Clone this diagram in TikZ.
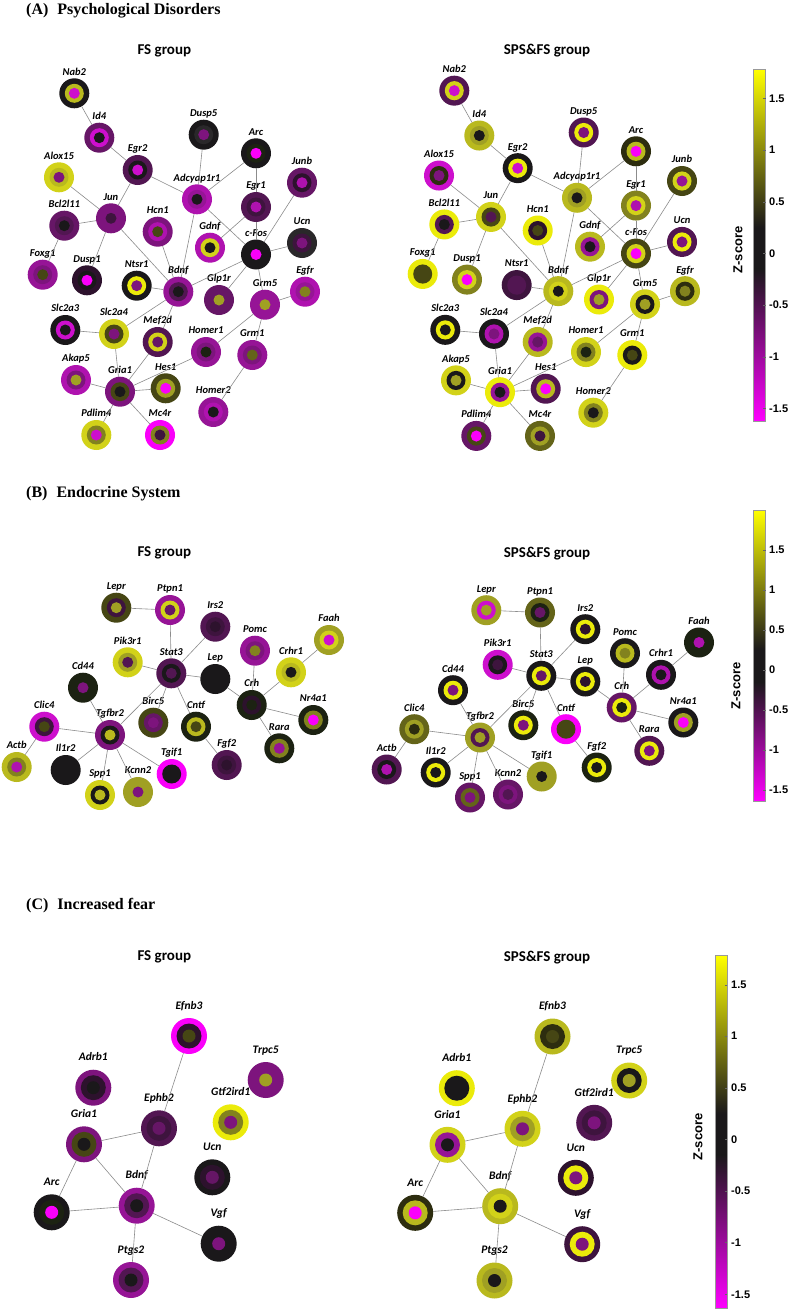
\documentclass[tikz,border=0pt]{standalone}
\usepackage{fontspec}
\setmainfont{Liberation Serif}
\newfontfamily\calfont{Carlito}
\newfontfamily\arifont{Liberation Sans}
\definecolor{Y9}{RGB}{235,235,10}
\definecolor{Y8}{RGB}{210,210,25}
\definecolor{Y7}{RGB}{185,185,30}
\definecolor{Y6}{RGB}{160,160,35}
\definecolor{Y5}{RGB}{130,130,30}
\definecolor{Y4}{RGB}{100,100,25}
\definecolor{Y3}{RGB}{70,70,20}
\definecolor{Y2}{RGB}{45,45,15}
\definecolor{Y1}{RGB}{28,34,18}
\definecolor{K}{RGB}{26,24,26}
\definecolor{K2}{RGB}{42,40,42}
\definecolor{M1}{RGB}{45,18,45}
\definecolor{M2}{RGB}{62,20,62}
\definecolor{M3}{RGB}{82,22,82}
\definecolor{M4}{RGB}{102,22,102}
\definecolor{M5}{RGB}{125,20,125}
\definecolor{M6}{RGB}{150,20,150}
\definecolor{M7}{RGB}{175,18,175}
\definecolor{M8}{RGB}{205,15,205}
\definecolor{M9}{RGB}{250,0,250}
\definecolor{edgegray}{RGB}{140,140,140}
\tikzset{
 edge/.style={draw=edgegray, line width=0.6pt},
 gA/.style={circle, minimum size=30pt, inner sep=0pt, outer sep=0pt, fill=#1},
 gC/.style={circle, minimum size=36pt, inner sep=0pt, outer sep=0pt, fill=#1},
 labA/.style={font=\calfont\bfseries\itshape\fontsize{10.5}{12}\selectfont, text depth=0pt, inner sep=0pt, label distance=3pt},
 labC/.style={font=\calfont\bfseries\itshape\fontsize{11.5}{13}\selectfont, text depth=0pt, inner sep=0pt, label distance=8.6pt},
 grp/.style={font=\calfont\bfseries\fontsize{15}{18}\selectfont, inner sep=0pt},
 ptitle/.style={font=\bfseries\fontsize{16}{19}\selectfont, anchor=base west, inner sep=0pt},
 ticklab/.style={font=\arifont\bfseries\fontsize{11}{13}\selectfont, anchor=west, inner sep=0pt},
 zlab/.style={font=\arifont\bfseries\fontsize{13}{15}\selectfont, rotate=90, inner sep=0pt},
 cbframe/.style={draw=black!40, line width=0.5pt},
}
\newcommand\gnA[6]{\node[gA=#3,label={[labA]above:#6}] (#1) at (#2) {};
 \fill[#4] (#1.center) circle[radius=9.5pt];
 \fill[#5] (#1.center) circle[radius=5.5pt];}
\newcommand\gnC[6]{\node[gC=#3,label={[labC]above:#6}] (#1) at (#2) {};
 \fill[#4] (#1.center) circle[radius=12.5pt];
 \fill[#5] (#1.center) circle[radius=6.5pt];}
\newcommand\edgesA[1]{%
 \foreach \a/\b in {Nab2/Id4,Id4/Egr2,Egr2/Jun,Egr2/Adcyap1r1,Alox15/Jun,Bcl2l11/Jun,Bcl2l11/Foxg1,Jun/Dusp1,Jun/Bdnf,Hcn1/Bdnf,Adcyap1r1/Dusp5,Adcyap1r1/Arc,Adcyap1r1/cFos,Adcyap1r1/Bdnf,Arc/Egr1,Egr1/cFos,Egr1/Gdnf,Junb/cFos,Ucn/cFos,cFos/Bdnf,cFos/Glp1r,cFos/Grm5,Ntsr1/Bdnf,Bdnf/Slc2a4,Bdnf/Mef2d,Slc2a3/Slc2a4,Slc2a4/Gria1,Mef2d/Gria1,Homer1/Gria1,Hes1/Gria1,Akap5/Gria1,Gria1/Pdlim4,Gria1/Mc4r,Grm5/Homer1,Grm5/Grm1,Grm5/Egfr,Grm1/Homer2}
 {\draw[edge] (#1\a) -- (#1\b);}}
\newcommand\edgesB[1]{%
 \foreach \a/\b in {Lepr/Ptpn1,Ptpn1/Stat3,Irs2/Stat3,Pik3r1/Stat3,Stat3/Lep,Lep/Crh,Stat3/Tgfbr2,Stat3/Birc5,Stat3/Cntf,Pomc/Crh,Crhr1/Crh,Faah/Crhr1,Crh/Nr4a1,Crh/Rara,Cd44/Tgfbr2,Clic4/Tgfbr2,Clic4/Actb,Tgfbr2/Il1r2,Tgfbr2/Spp1,Tgfbr2/Kcnn2,Tgfbr2/Tgif1,Cntf/Fgf2}
 {\draw[edge] (#1\a) -- (#1\b);}}
\newcommand\edgesC[1]{%
 \foreach \a/\b in {Efnb3/Ephb2,Ephb2/Gria1,Ephb2/Bdnf,Gria1/Arc,Gria1/Bdnf,Arc/Bdnf,Bdnf/Vgf,Bdnf/Ptgs2}
 {\draw[edge] (#1\a) -- (#1\b);}}
% colorbar: #1 x-left, #2 x-right, #3 top, #4 y(z=0.25), #5 y(z=-0.15), #6 bottom
\newcommand\cbar[6]{%
 \shade[top color=yellow, bottom color=K] (#1,#3) rectangle (#2,#4);
 \fill[K] (#1,#4) rectangle (#2,#5);
 \shade[top color=K, bottom color=magenta] (#1,#5) rectangle (#2,#6);
 \draw[cbframe] (#1,#3) rectangle (#2,#6);}
\begin{document}
\begin{tikzpicture}[x=1pt,y=-1pt]
\useasboundingbox[fill=white] (0,0) rectangle (790,1311);
% ---------- titles ----------
\node[ptitle] (tA) at (26,14.8) {(A)\hspace{9pt}Psychological Disorders};
\node[ptitle] (tB) at (26,497) {(B)\hspace{9pt}Endocrine System};
\node[ptitle] (tC) at (26,909.5) {(C)\hspace{9pt}Increased fear};
\node[grp] (gAF) at (164.3,51) {FS group};
\node[grp] (gAS) at (547,51) {SPS\&FS group};
\node[grp] (gBF) at (164.3,553.3) {FS group};
\node[grp] (gBS) at (547,553.3) {SPS\&FS group};
\node[grp] (gCF) at (164.3,957.3) {FS group};
\node[grp] (gCS) at (547,957.3) {SPS\&FS group};
% ---------- Panel A, FS ----------
\gnA{FNab2}{74.3,93.3}{K}{Y7}{M8}{Nab2}
\gnA{FId4}{99.3,137.7}{M4}{M8}{K}{Id4}
\gnA{FEgr2}{137.7,170}{M3}{K}{M8}{Egr2}
\gnA{FAlox15}{59,177.3}{Y8}{Y7}{M5}{Alox15}
\gnA{FBcl2l11}{64.3,225.7}{M4}{M3}{K}{Bcl2l11}
\gnA{FJun}{111,218.3}{M5}{M5}{M2}{Jun}
\gnA{FHcn1}{157.7,231.7}{M5}{M7}{Y3}{Hcn1}
\gnA{FAdcyap1r1}{197,199.3}{M7}{M6}{K}{Adcyap1r1}
\gnA{FDusp5}{203.7,134.7}{K}{K2}{M5}{Dusp5}
\gnA{FArc}{256,153.3}{K}{Y1}{M9}{Arc}
\gnA{FEgr1}{256,207}{M3}{M2}{M7}{Egr1}
\gnA{FJunb}{302,182.7}{M4}{M1}{M7}{Junb}
\gnA{FGdnf}{210,247.7}{M7}{Y8}{K}{Gdnf}
\gnA{FcFos}{256,254.5}{K}{K}{M9}{c-Fos}
\gnA{FUcn}{302,243}{K2}{M2}{M5}{Ucn}
\gnA{FFoxg1}{42.7,274.7}{M6}{M5}{Y3}{Foxg1}
\gnA{FDusp1}{87,280.3}{M1}{K}{M9}{Dusp1}
\gnA{FNtsr1}{136.7,285.7}{K}{Y9}{M5}{Ntsr1}
\gnA{FBdnf}{178.3,291.7}{M6}{M3}{K}{Bdnf}
\gnA{FGlp1r}{219,300}{M4}{M4}{Y6}{Glp1r}
\gnA{FGrm5}{265,304.7}{M6}{M6}{Y6}{Grm5}
\gnA{FEgfr}{305,291.7}{M7}{M6}{Y5}{Egfr}
\gnA{FSlc2a3}{65.3,330}{K}{M8}{K}{Slc2a3}
\gnA{FSlc2a4}{114,334}{Y8}{Y3}{M5}{Slc2a4}
\gnA{FMef2d}{157.7,342}{M3}{Y8}{M4}{Mef2d}
\gnA{FHomer1}{206,352}{M6}{M5}{Y1}{Homer1}
\gnA{FGrm1}{252.3,355}{M6}{M5}{Y4}{Grm1}
\gnA{FAkap5}{76,380}{M7}{M5}{Y6}{Akap5}
\gnA{FGria1}{120,391.7}{M5}{Y3}{K}{Gria1}
\gnA{FHes1}{165.7,388.3}{Y3}{Y6}{M9}{Hes1}
\gnA{FHomer2}{213.3,412}{M6}{M7}{K}{Homer2}
\gnA{FPdlim4}{96.3,435}{Y8}{Y5}{M8}{Pdlim4}
\gnA{FMc4r}{160,435}{M9}{Y5}{M2}{Mc4r}
\edgesA{F}
% ---------- Panel A, SPS&FS ----------
\begin{scope}[shift={(380,-3.6)},yscale=1.0104]
\gnA{SNab2}{74.3,93.3}{M3}{Y8}{M8}{Nab2}
\gnA{SId4}{99.3,137.7}{Y7}{Y6}{K}{Id4}
\gnA{SEgr2}{137.7,170}{K}{Y9}{M8}{Egr2}
\gnA{SAlox15}{59,177.3}{M8}{Y2}{M5}{Alox15}
\gnA{SBcl2l11}{64.3,225.7}{Y9}{M3}{K}{Bcl2l11}
\gnA{SJun}{111,218.3}{Y8}{Y3}{M3}{Jun}
\gnA{SHcn1}{157.7,231.7}{Y9}{M1}{Y3}{Hcn1}
\gnA{SAdcyap1r1}{197,199.3}{Y7}{Y6}{K}{Adcyap1r1}
\gnA{SDusp5}{203.7,134.7}{M3}{Y9}{M5}{Dusp5}
\gnA{SArc}{256,153.3}{Y2}{Y7}{M9}{Arc}
\gnA{SEgr1}{256,207}{Y5}{Y8}{M7}{Egr1}
\gnA{SJunb}{302,182.7}{Y3}{Y8}{M6}{Junb}
\gnA{SGdnf}{210,247.7}{Y7}{M6}{K}{Gdnf}
\gnA{ScFos}{256,254.5}{Y3}{Y8}{M9}{c-Fos}
\gnA{SUcn}{302,243}{M3}{Y9}{M5}{Ucn}
\gnA{SFoxg1}{42.7,274.7}{Y9}{Y3}{Y3}{Foxg1}
\gnA{SDusp1}{87,280.3}{Y5}{Y8}{M9}{Dusp1}
\gnA{SNtsr1}{136.7,285.7}{M2}{M3}{M3}{Ntsr1}
\gnA{SBdnf}{178.3,291.7}{Y7}{Y8}{K}{Bdnf}
\gnA{SGlp1r}{219,300}{Y9}{M5}{Y6}{Glp1r}
\gnA{SGrm5}{265,304.7}{Y8}{K}{Y6}{Grm5}
\gnA{SEgfr}{305,291.7}{Y7}{Y2}{Y5}{Egfr}
\gnA{SSlc2a3}{65.3,330}{K}{Y9}{K}{Slc2a3}
\gnA{SSlc2a4}{114,334}{K}{M7}{M5}{Slc2a4}
\gnA{SMef2d}{157.7,342}{Y7}{M6}{M4}{Mef2d}
\gnA{SHomer1}{206,352}{Y8}{Y5}{Y1}{Homer1}
\gnA{SGrm1}{252.3,355}{Y9}{K}{Y3}{Grm1}
\gnA{SAkap5}{76,380}{Y8}{K}{Y6}{Akap5}
\gnA{SGria1}{120,391.7}{Y9}{M6}{K}{Gria1}
\gnA{SHes1}{165.7,388.3}{M3}{Y7}{M9}{Hes1}
\gnA{SHomer2}{213.3,412}{Y8}{Y5}{K}{Homer2}
\gnA{SPdlim4}{96.3,435}{M4}{Y3}{M9}{Pdlim4}
\gnA{SMc4r}{160,435}{Y4}{Y6}{M2}{Mc4r}
\edgesA{S}
\end{scope}
% ---------- Panel B, FS ----------
\gnA{BFLepr}{116.3,607.7}{Y3}{M2}{Y6}{Lepr}
\gnA{BFPtpn1}{170,610}{M6}{Y8}{M4}{Ptpn1}
\gnA{BFIrs2}{215.3,626.7}{M3}{M2}{M1}{Irs2}
\gnA{BFPomc}{255,650.7}{M6}{M5}{Y5}{Pomc}
\gnA{BFFaah}{329,640}{Y6}{Y8}{M8}{Faah}
\gnA{BFPik3r1}{127.7,662.3}{Y8}{Y6}{M3}{Pik3r1}
\gnA{BFStat3}{171.3,673.3}{M3}{K}{M3}{Stat3}
\gnA{BFLep}{215.3,679}{K}{K}{K}{Lep}
\gnA{BFCrhr1}{291,672.3}{Y8}{Y7}{K}{Crhr1}
\gnA{BFCd44}{83,687.7}{Y1}{Y1}{M5}{Cd44}
\gnA{BFCrh}{251.7,705}{Y1}{M1}{Y1}{Crh}
\gnA{BFNr4a1}{313.3,720}{Y1}{Y5}{M9}{Nr4a1}
\gnA{BFClic4}{44.3,726.7}{M8}{M2}{Y3}{Clic4}
\gnA{BFTgfbr2}{110,735}{M5}{K}{Y7}{Tgfbr2}
\gnA{BFBirc5}{153.3,722.7}{Y3}{M4}{M5}{Birc5}
\gnA{BFCntf}{196,726.7}{Y1}{Y7}{Y3}{Cntf}
\gnA{BFRara}{279.3,748.3}{Y1}{Y5}{M6}{Rara}
\gnA{BFFgf2}{226.7,765}{M3}{M2}{M1}{Fgf2}
\gnA{BFActb}{16.7,767}{Y7}{Y5}{M7}{Actb}
\gnA{BFIl1r2}{65.7,770}{K}{K}{K}{Il1r2}
\gnA{BFTgif1}{171.7,774}{M9}{K}{K}{Tgif1}
\gnA{BFSpp1}{100,795}{Y8}{K}{Y7}{Spp1}
\gnA{BFKcnn2}{138,792}{Y6}{Y6}{M5}{Kcnn2}
\edgesB{BF}
% ---------- Panel B, SPS&FS ----------
\begin{scope}[shift={(370,2.5)}]
\gnA{BSLepr}{116.3,607.7}{Y6}{M8}{Y6}{Lepr}
\gnA{BSPtpn1}{170,610}{Y4}{Y1}{M4}{Ptpn1}
\gnA{BSIrs2}{215.3,626.7}{K}{Y9}{M1}{Irs2}
\gnA{BSPomc}{255,650.7}{K}{Y7}{Y5}{Pomc}
\gnA{BSFaah}{329,640}{Y1}{Y1}{M7}{Faah}
\gnA{BSPik3r1}{127.7,662.3}{M8}{K}{M2}{Pik3r1}
\gnA{BSStat3}{171.3,673.3}{K}{Y9}{M4}{Stat3}
\gnA{BSLep}{215.3,679}{K}{Y9}{M1}{Lep}
\gnA{BSCrhr1}{291,672.3}{K}{M7}{K}{Crhr1}
\gnA{BSCd44}{83,687.7}{K}{Y9}{M5}{Cd44}
\gnA{BSCrh}{251.7,705}{M4}{Y9}{Y1}{Crh}
\gnA{BSNr4a1}{313.3,720}{K}{Y6}{M9}{Nr4a1}
\gnA{BSClic4}{44.3,726.7}{Y4}{Y6}{Y2}{Clic4}
\gnA{BSTgfbr2}{110,735}{Y6}{M3}{Y6}{Tgfbr2}
\gnA{BSBirc5}{153.3,722.7}{Y1}{Y9}{M5}{Birc5}
\gnA{BSCntf}{196,726.7}{M9}{Y3}{Y3}{Cntf}
\gnA{BSRara}{279.3,748.3}{M3}{Y9}{M5}{Rara}
\gnA{BSFgf2}{226.7,765}{Y1}{Y9}{K}{Fgf2}
\gnA{BSActb}{16.7,767}{M3}{K}{M7}{Actb}
\gnA{BSIl1r2}{65.7,770}{K}{Y9}{K}{Il1r2}
\gnA{BSTgif1}{171.7,774}{Y6}{Y6}{K}{Tgif1}
\gnA{BSSpp1}{100,795}{M4}{Y4}{M5}{Spp1}
\gnA{BSKcnn2}{138,792}{M4}{M5}{M3}{Kcnn2}
\edgesB{BS}
\end{scope}
% ---------- Panel C, FS ----------
\gnC{CFEfnb3}{189,1036}{M9}{M1}{Y3}{Efnb3}
\gnC{CFAdrb1}{93.3,1087.7}{M5}{M1}{K}{Adrb1}
\gnC{CFTrpc5}{265.7,1080}{M5}{M5}{Y6}{Trpc5}
\gnC{CFEphb2}{159,1128.3}{M3}{M2}{M4}{Ephb2}
\gnC{CFGtf2ird1}{230.7,1122.3}{Y9}{Y5}{M5}{Gtf2ird1}
\gnC{CFGria1}{84,1144.3}{M5}{Y3}{K}{Gria1}
\gnC{CFUcn}{212.3,1177.3}{K}{M1}{M4}{Ucn}
\gnC{CFBdnf}{136.7,1205.7}{M6}{M3}{K}{Bdnf}
\gnC{CFArc}{51.7,1212.3}{K}{Y1}{M9}{Arc}
\gnC{CFVgf}{218.7,1243.7}{K}{K}{M5}{Vgf}
\gnC{CFPtgs2}{131,1280}{M6}{M3}{K}{Ptgs2}
\edgesC{CF}
% ---------- Panel C, SPS&FS ----------
\begin{scope}[shift={(363.5,0.5)}]
\gnC{CSEfnb3}{189,1036}{Y7}{Y2}{Y3}{Efnb3}
\gnC{CSAdrb1}{93.3,1087.7}{Y9}{K}{K}{Adrb1}
\gnC{CSTrpc5}{265.7,1080}{Y8}{K}{Y6}{Trpc5}
\gnC{CSEphb2}{159,1128.3}{Y8}{Y6}{M5}{Ephb2}
\gnC{CSGtf2ird1}{230.7,1122.3}{M3}{M2}{M5}{Gtf2ird1}
\gnC{CSGria1}{84,1144.3}{Y8}{M6}{K}{Gria1}
\gnC{CSUcn}{212.3,1177.3}{M1}{Y9}{M5}{Ucn}
\gnC{CSBdnf}{136.7,1205.7}{Y7}{Y8}{K}{Bdnf}
\gnC{CSArc}{51.7,1212.3}{Y2}{Y7}{M9}{Arc}
\gnC{CSVgf}{218.7,1243.7}{M2}{Y9}{M5}{Vgf}
\gnC{CSPtgs2}{131,1280}{Y7}{Y6}{K}{Ptgs2}
\edgesC{CS}
\end{scope}
% ---------- colorbars ----------
\cbar{753.3}{765.7}{69.3}{227.5}{268.8}{421}
\foreach \v/\yy in {1.5/98.3,1/150,0.5/201.7,0/253.3,-0.5/305,-1/356.7,-1.5/408.3}
 {\draw[black!60,line width=0.4pt] (765.7,\yy) -- (763,\yy);
  \node[ticklab] at (769,\yy) {\v};}
\node[zlab] (zA) at (738,250) {Z-score};
\cbar{753.3}{765.7}{510}{650}{682}{801}
\foreach \v/\yy in {1.5/550,1/590,0.5/630,0/670,-0.5/710,-1/750,-1.5/790}
 {\draw[black!60,line width=0.4pt] (765.7,\yy) -- (763,\yy);
  \node[ticklab] at (769,\yy) {\v};}
\node[zlab] (zB) at (736,686) {Z-score};
\cbar{715.7}{727.3}{955.7}{1113.5}{1154.8}{1308.3}
\foreach \v/\yy in {1.5/984.7,1/1036,0.5/1087.7,0/1139.3,-0.5/1191,-1/1242.3,-1.5/1294.3}
 {\draw[black!60,line width=0.4pt] (727.3,\yy) -- (724.6,\yy);
  \node[ticklab] at (731,\yy) {\v};}
\node[zlab] (zC) at (698,1137) {Z-score};
\end{tikzpicture}
\end{document}
